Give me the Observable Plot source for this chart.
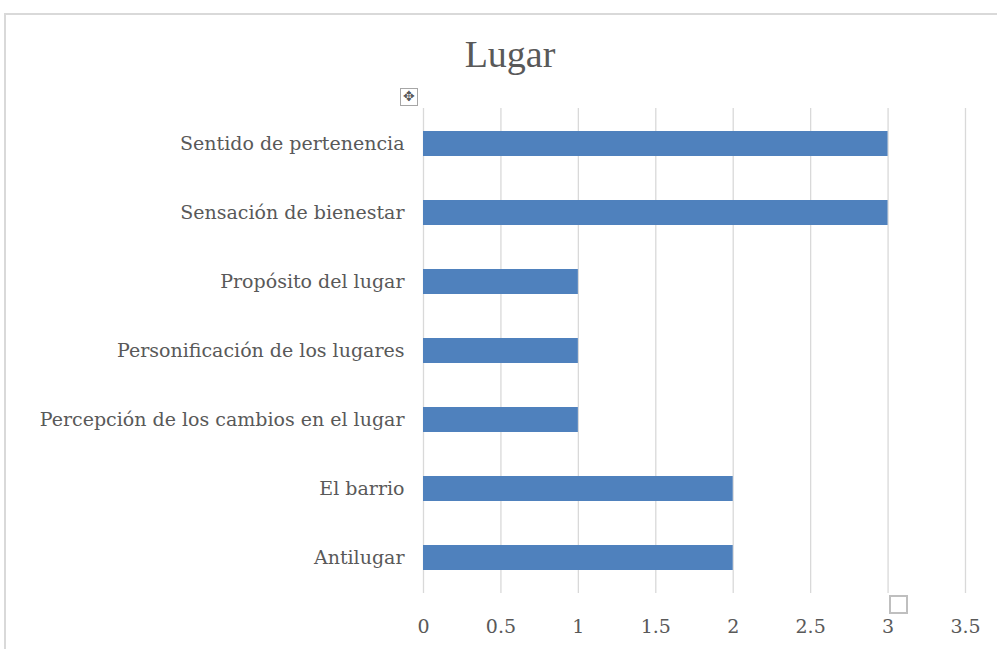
<!DOCTYPE html>
<html><head><meta charset="utf-8">
<script src="https://cdn.jsdelivr.net/npm/d3@7"></script>
<script src="https://cdn.jsdelivr.net/npm/@observablehq/plot@0.6"></script>
<style>
html,body{margin:0;padding:0;background:#fff;}
#wrap{position:relative;width:997px;height:649px;overflow:hidden;}
#frame{position:absolute;left:4px;top:13px;width:1100px;height:700px;border-left:2px solid #d9d9d9;border-top:2px solid #d9d9d9;}
#title{position:absolute;left:0;width:1020px;top:32px;text-align:center;font-family:"Liberation Serif",serif;font-size:38px;color:#595959;}
#chart{position:absolute;left:0;top:0;}
#mv{position:absolute;left:400px;top:88px;width:18px;height:18px;border:1px solid #a6a6a6;box-sizing:border-box;font-size:14px;line-height:16px;text-align:center;color:#595959;background:#fff;}
#sq{position:absolute;left:889px;top:595px;width:19px;height:19px;border:2px solid #bfbfbf;box-sizing:border-box;background:#fff;}
</style></head>
<body><div id="wrap"><div id="frame"></div><div id="title">Lugar</div><div id="chart"></div><div id="mv">✥</div><div id="sq"></div></div>
<script>
const categories = ["Sentido de pertenencia","Sensación de bienestar","Propósito del lugar","Personificación de los lugares","Percepción de los cambios en el lugar","El barrio","Antilugar"];
const values = [3,3,1,1,1,2,2];
const xTicks = [0,0.5,1,1.5,2,2.5,3,3.5];
const data = categories.map((c,i)=>({cat:c, v:values[i]}));
const chart = Plot.plot({
  width: 997, height: 649,
  marginLeft: 423, marginRight: 32, marginTop: 108, marginBottom: 56,
  style: {fontFamily: '"DejaVu Serif", serif', fontSize: "19px", color: "#595959", background: "transparent"},
  x: {domain: [0,3.5], ticks: xTicks, tickFormat: d => String(d), label: null, grid: false},
  y: {domain: categories, paddingInner: 0.64, paddingOuter: 0.32, label: null},
  marks: [
    Plot.gridX(xTicks, {stroke: "#d9d9d9", strokeOpacity: 1, strokeWidth: 1.3}),
    Plot.barX(data, {x: "v", y: "cat", fill: "#4f81bd"}),
    Plot.axisX({ticks: xTicks, tickSize: 0, tickPadding: 26, tickFormat: d => String(d), label: null, fill: "#595959"}),
    Plot.axisY({tickSize: 0, tickPadding: 19, label: null, fill: "#595959"})
  ]
});
document.getElementById("chart").appendChild(chart);
</script></body></html>
